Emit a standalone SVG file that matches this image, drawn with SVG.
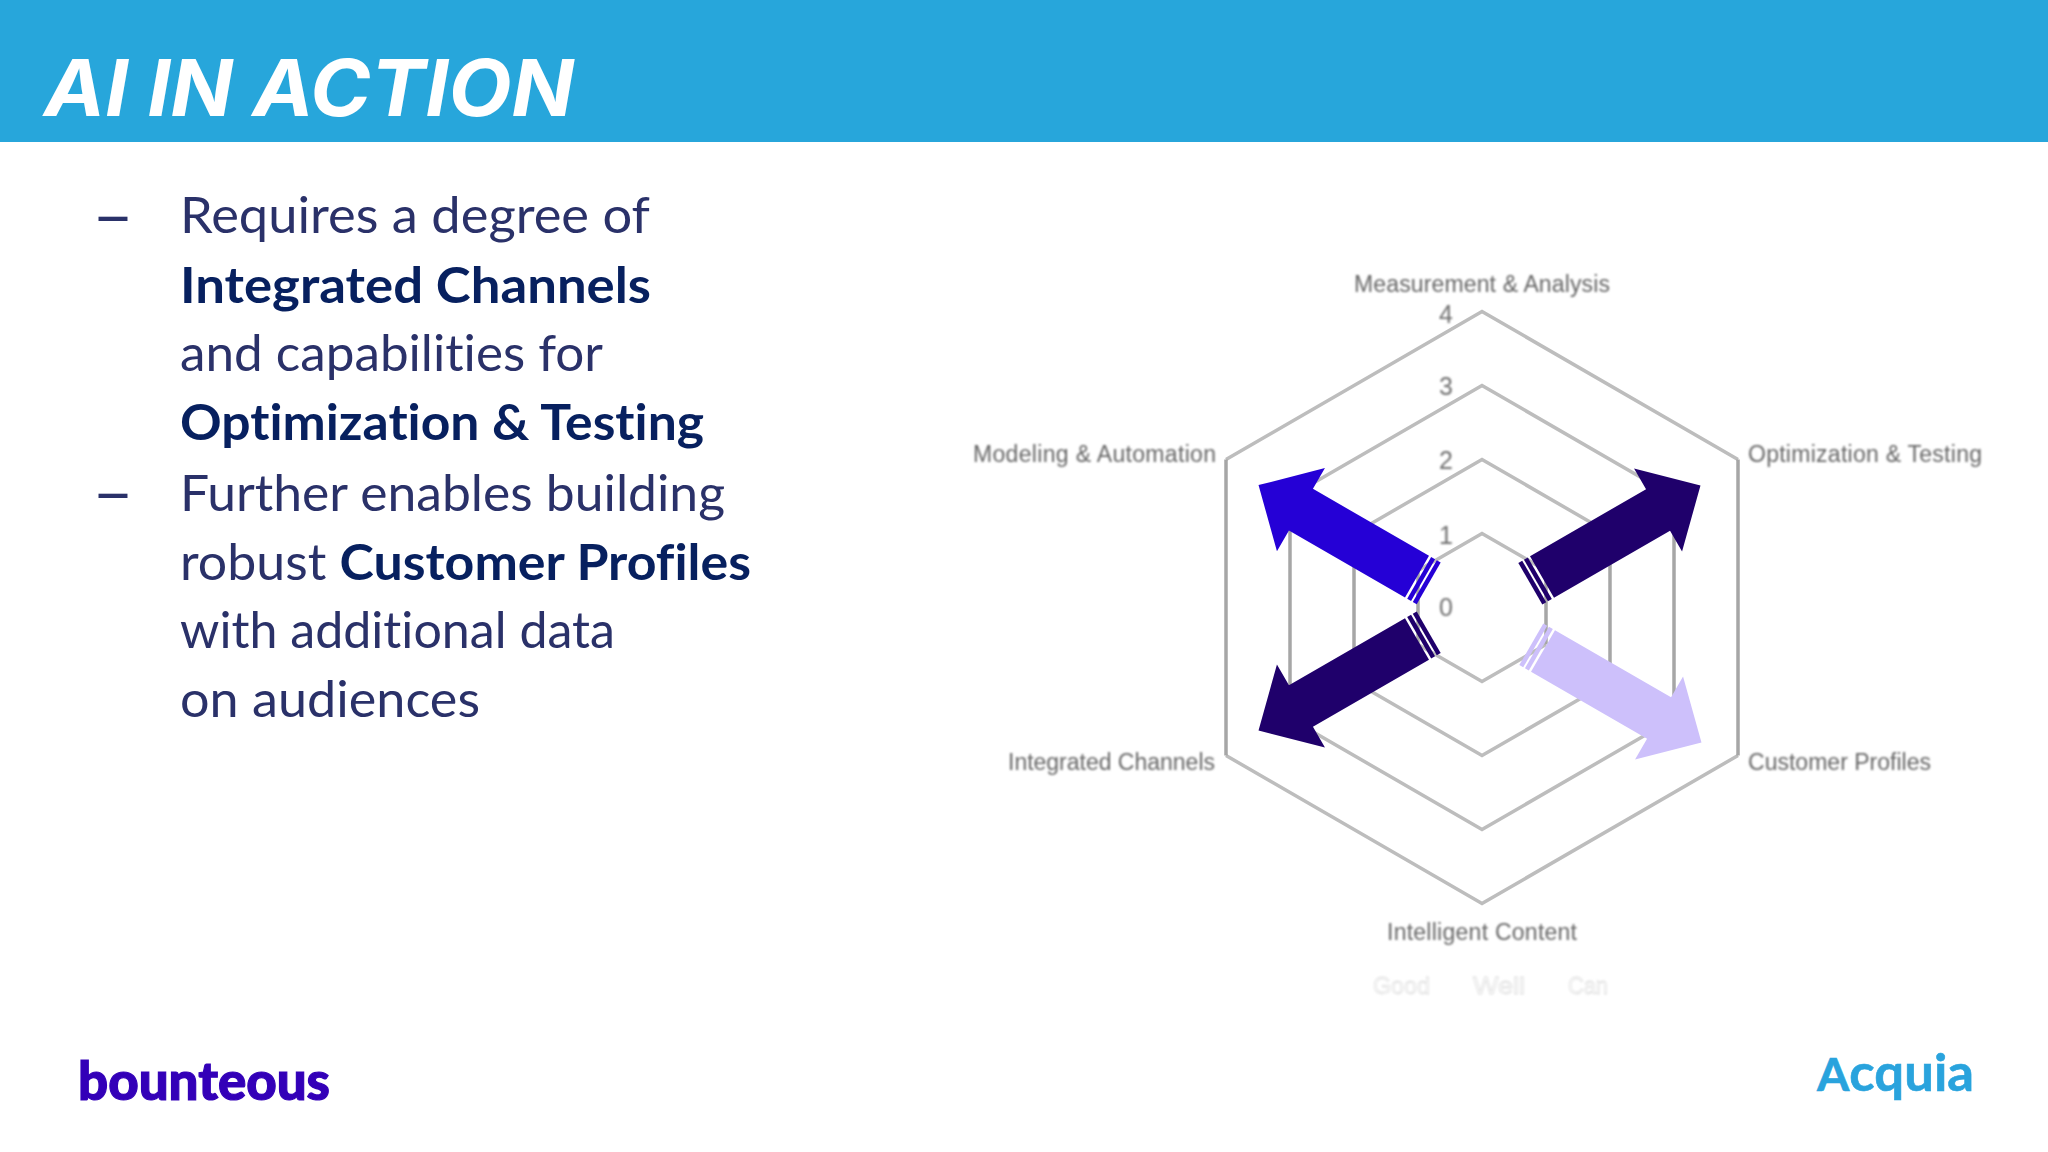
<svg xmlns="http://www.w3.org/2000/svg" width="2048" height="1152" viewBox="0 0 2048 1152">
<defs>
<filter id="soft" x="-5%" y="-20%" width="110%" height="140%"><feGaussianBlur stdDeviation="0.9"/></filter>
<filter id="line" x="-5%" y="-5%" width="110%" height="110%"><feGaussianBlur stdDeviation="0.6"/></filter>
<g id="arrow"><polygon points="0,-24 134,-24 134,-48 183,0 134,48 134,24 0,24"/><rect x="-7" y="-24" width="4.5" height="48"/><rect x="-13.5" y="-24" width="4.5" height="48"/></g>
</defs>
<style>
.body{font-family:Lato,"Liberation Sans",sans-serif;font-size:50px;fill:#2A3169;font-variant-ligatures:none}
.b{font-weight:700;fill:#07205F}
.dash{font-family:Lato,"Liberation Sans",sans-serif;font-size:66px;fill:#2A3169}
.s{fill:none;stroke:#bdbdbd;stroke-width:3.5;filter:url(#line)}
.v{fill:none;stroke:#a6a6a6;stroke-width:3.5;filter:url(#line)}
.lab{font-family:"Liberation Sans",sans-serif;font-size:23px;fill:#666;filter:url(#soft)}
.num{font-family:"Liberation Sans",sans-serif;font-size:25px;fill:#707070;text-anchor:middle;filter:url(#soft)}
.ghost{font-family:"Liberation Sans",sans-serif;font-size:24px;fill:#fff;stroke:#dcdcdc;stroke-width:.8;filter:url(#soft)}
</style>
<rect width="2048" height="1152" fill="#fff"/>
<g id="header"><rect width="2048" height="142" fill="#27A6DB"/>
<text x="44" y="116" font-family="Inter, Liberation Sans, sans-serif" font-weight="700" font-style="italic" font-size="78" fill="#fff" textLength="530" lengthAdjust="spacingAndGlyphs">AI IN ACTION</text></g>
<g id="bullets">
<text class="dash" x="92" y="238" textLength="42" lengthAdjust="spacingAndGlyphs">–</text>
<text class="body" x="180" y="232.5" textLength="470" lengthAdjust="spacingAndGlyphs">Requires a degree of</text>
<text class="body b" x="180" y="302.5" textLength="471" lengthAdjust="spacingAndGlyphs">Integrated Channels</text>
<text class="body" x="180" y="371" textLength="423" lengthAdjust="spacingAndGlyphs">and capabilities for</text>
<text class="body b" x="180" y="439.5" textLength="524" lengthAdjust="spacingAndGlyphs">Optimization &amp; Testing</text>
<text class="dash" x="92" y="515" textLength="42" lengthAdjust="spacingAndGlyphs">–</text>
<text class="body" x="180" y="510.5" textLength="545" lengthAdjust="spacingAndGlyphs">Further enables building</text>
<text class="body" x="180" y="579.5" textLength="571" lengthAdjust="spacingAndGlyphs">robust <tspan class="b">Customer Profiles</tspan></text>
<text class="body" x="180" y="648" textLength="435" lengthAdjust="spacingAndGlyphs">with additional data</text>
<text class="body" x="180" y="717" textLength="300" lengthAdjust="spacingAndGlyphs">on audiences</text>
</g>
<g id="radar-grid">
<path class="s" d="M1418 570.5L1482 533.5L1546 570.5M1546 644.5L1482 681.5L1418 644.5"/>
<path class="s" d="M1354 533.5L1482 459.5L1610 533.5M1610 681.5L1482 755.5L1354 681.5"/>
<path class="s" d="M1290 496.5L1482 385.5L1674 496.5M1674 718.5L1482 829.5L1290 718.5"/>
<path class="s" d="M1226 459.5L1482 311.5L1738 459.5M1738 755.5L1482 903.5L1226 755.5"/>
<path class="v" d="M1418 570.5V644.5M1546 570.5V644.5M1354 533.5V681.5M1610 533.5V681.5M1290 496.5V718.5M1674 496.5V718.5M1226 459.5V755.5M1738 459.5V755.5"/>
</g>
<g id="radar-labels">
<text class="lab" x="1354" y="292" textLength="256">Measurement &amp; Analysis</text>
<text class="lab" x="973" y="462" textLength="243">Modeling &amp; Automation</text>
<text class="lab" x="1748" y="462" textLength="234">Optimization &amp; Testing</text>
<text class="lab" x="1008" y="770" textLength="207">Integrated Channels</text>
<text class="lab" x="1748" y="770" textLength="183">Customer Profiles</text>
<text class="lab" x="1387" y="940" textLength="190">Intelligent Content</text>
<text class="num" x="1446" y="323">4</text>
<text class="num" x="1446" y="395">3</text>
<text class="num" x="1446" y="469">2</text>
<text class="num" x="1446" y="544">1</text>
<text class="num" x="1446" y="616">0</text>
</g>
<g id="connectors">
<use href="#arrow" fill="#2500D6" transform="translate(1417 576.6) rotate(-150)"/>
<use href="#arrow" fill="#1F006B" transform="translate(1542 577) rotate(-30)"/>
<use href="#arrow" fill="#1F006B" transform="translate(1417 639) rotate(150)"/>
<use href="#arrow" fill="#CDC0FB" transform="translate(1543 651) rotate(30)"/>
</g>
<g id="legend">
<text class="ghost" x="1373" y="994" textLength="57" lengthAdjust="spacingAndGlyphs">Good</text>
<text class="ghost" x="1473" y="994" textLength="52" lengthAdjust="spacingAndGlyphs">Well</text>
<text class="ghost" x="1568" y="994" textLength="40" lengthAdjust="spacingAndGlyphs">Can</text>
</g>
<g id="logo-bounteous"><text x="78" y="1100" font-family="Lato, sans-serif" font-weight="900" font-size="54" fill="#3300B8" stroke="#3300B8" stroke-width="1.2" textLength="252" lengthAdjust="spacingAndGlyphs">bounteous</text></g>
<g id="logo-acquia"><text x="1817" y="1091" font-family="Lato, sans-serif" font-weight="700" fill="#29A3DD" stroke="#29A3DD" stroke-width=".6" textLength="157" lengthAdjust="spacingAndGlyphs"><tspan font-size="46">A</tspan><tspan font-size="52">cquia</tspan></text></g>
</svg>
